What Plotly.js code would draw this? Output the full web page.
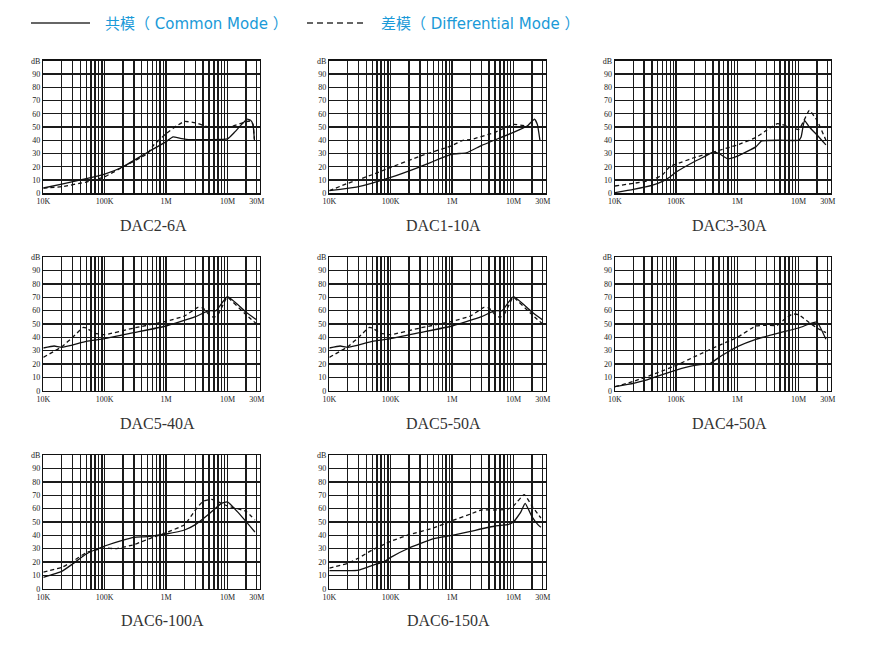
<!DOCTYPE html>
<html>
<head>
<meta charset="utf-8">
<script src="https://cdn.plot.ly/plotly-3.0.1.min.js"></script>
<style>html,body{margin:0;padding:0;background:#fff;}#chart{width:871px;height:669px;}</style>
</head>
<body>
<div id="chart"></div>
<script>
// ---- Data (frequency in Hz, attenuation in dB) ----
const panelNames = ["DAC2-6A","DAC1-10A","DAC3-30A","DAC5-40A","DAC5-50A","DAC4-50A","DAC6-100A","DAC6-150A"];

const dac2_6A_cmF  = [1e4,2e4,5e4,1e5,2e5,5e5,1e6,1.3e6,1.7e6,2.5e6,5e6,1e7,1.3e7,1.7e7,2.1e7,2.4e7,2.6e7,2.75e7];
const dac2_6A_cmDb = [4,7,11,14.5,20,31,39,42.5,41.5,40.5,40.5,41,46,52,56,55,52,40];
const dac2_6A_dmF  = [1e4,2e4,5e4,1e5,2e5,5e5,6.2e5,1e6,1.5e6,2e6,3.1e6,4.5e6,7.5e6,1.2e7,2e7,2.4e7,2.6e7,2.75e7];
const dac2_6A_dmDb = [4,5,8.5,12.5,20,30,36,45,51,54.2,53,50.5,49.5,50.5,54,54.5,52,41];

const dac1_10A_cmF  = [1e4,1.5e4,3e4,1e5,3e5,1e6,1.7e6,3e6,1e7,1.7e7,2.2e7,2.45e7,2.7e7];
const dac1_10A_cmDb = [2,3,5,12,20,29.5,30.5,36,46,51,56,52,40];
const dac1_10A_dmF  = [1e4,2e4,5e4,1e5,3e5,1e6,1.5e6,2e6,5e6,1e7,1.5e7,2e7];
const dac1_10A_dmDb = [2,7.5,14,19.5,28,36,40,40.5,46,52,51,50];

const dac3_30A_cmF  = [1e4,2e4,4e4,6e4,8e4,1e5,2e5,3e5,4e5,5e5,7e5,1e6,2e6,2.5e6,5e6,1e7,1.1e7,1.25e7,1.5e7,2e7,2.8e7];
const dac3_30A_cmDb = [0.5,3,6,9,12.5,16,24,28,31,30,26,28,35,39.5,40,40,42.5,55,50,44,36.5];
const dac3_30A_dmF  = [1e4,2e4,4e4,6e4,8e4,1e5,2e5,4e5,1e6,2e6,3e6,4.5e6,7e6,1e7,1.2e7,1.5e7,2e7,2.8e7];
const dac3_30A_dmDb = [5.5,7.5,10,14,20.5,22,27,31,36.5,42,47.5,52.5,50.5,48,54,62.5,55,40];

const dac5_40A_cmF  = [1e4,1.5e4,2e4,5e4,1e5,3e5,1e6,3e6,5e6,6.5e6,1e7,2e7,3e7];
const dac5_40A_cmDb = [32,33.5,32.5,37,39,43.5,48.5,55.5,60,60,70.5,59,53];
const dac5_40A_dmF  = [1e4,2e4,3e4,4.5e4,5e4,7e4,1e5,3e5,1e6,2e6,3.3e6,4e6,5e6,6e6,7e6,9.5e6,1e7,2e7,3e7];
const dac5_40A_dmDb = [25,33,40,47.5,47,43,42,47,52,56,62.5,62,57,55,57,69,70,57,50];

const dac5_50A_cmF  = [1e4,1.5e4,2e4,5e4,1e5,3e5,1e6,3e6,5e6,6.5e6,1e7,2e7,3e7];
const dac5_50A_cmDb = [32,33.5,32.5,37,39,43.5,48.5,55.5,60,60,70.5,59,53];
const dac5_50A_dmF  = [1e4,2e4,3e4,4.5e4,5e4,7e4,1e5,3e5,1e6,2e6,3.3e6,4e6,5e6,6e6,7e6,9.5e6,1e7,2e7,3e7];
const dac5_50A_dmDb = [25,33,40,47.5,47,43,42,47,52,56,62.5,62,57,55,57,69,70,57,50];

const dac4_50A_cmF  = [1e4,2e4,3e4,5e4,1e5,2e5,3e5,3.5e5,5e5,7e5,1e6,2e6,5e6,1e7,1.5e7,2e7,2.8e7];
const dac4_50A_cmDb = [3,5.5,7.5,11,15.5,19,20,20,25,29,33,38.5,43.5,47,50,51.5,38.5];
const dac4_50A_dmF  = [1e4,2e4,5e4,1e5,2e5,5e5,1e6,2e6,3e6,4.5e6,6e6,8e6,1e7,1.5e7,2e7,2.8e7];
const dac4_50A_dmDb = [3,7,13.5,19,25.5,34,40,48.5,49,49,54,57.5,57,51,47,43.5];

const dac6_100A_cmF  = [1e4,2e4,3e4,5e4,1e5,2e5,3e5,5e5,1e6,2e6,3e6,5e6,8e6,1e7,1.5e7,2.8e7];
const dac6_100A_cmDb = [8.5,13,18.5,26,32,36.5,38.5,39,41,44,48,56,64,65,57,42.5];
const dac6_100A_dmF  = [1e4,2e4,3e4,5e4,1e5,1.5e5,3e5,5e5,1e6,2e6,3e6,4e6,5.5e6,8e6,1e7,2e7,2.8e7];
const dac6_100A_dmDb = [12.5,16,20.5,27,30.5,30,33,37,42,48,59,65.5,67,64,62,58,51.5];

const dac6_150A_cmF  = [1e4,2e4,3e4,5e4,8e4,1e5,2e5,5e5,1e6,2e6,5e6,8e6,1e7,1.3e7,1.55e7,2e7,2.5e7,2.8e7];
const dac6_150A_cmDb = [13.5,13.5,14,17.5,20.5,23.5,30.5,37.5,40,43,47,48,50,57,64,54,48,46];
const dac6_150A_dmF  = [1e4,2e4,3e4,5e4,1e5,2e5,5e5,1e6,2e6,3e6,5e6,8e6,1e7,1.5e7,2e7,2.8e7];
const dac6_150A_dmDb = [15.5,19,23,29,35.5,40.5,45.5,51,56,59,59,59.5,62,70.5,62,53];

// tick positions / labels
const xGridHz = [1e4,2e4,3e4,4e4,5e4,6e4,7e4,8e4,9e4,1e5,2e5,3e5,4e5,5e5,6e5,7e5,8e5,9e5,1e6,2e6,3e6,4e6,5e6,6e6,7e6,8e6,9e6,1e7,2e7,3e7];
const xLabels = {1e4:"10K",1e5:"100K",1e6:"1M",1e7:"10M",3e7:"30M"};
const yTicks = [0,10,20,30,40,50,60,70,80,90,100];
const yTickText = ["0","10","20","30","40","50","60","70","80","90","dB"];
const legendCM = "共模（ Common Mode ）";
const legendDM = "差模（ Differential Mode ）";

// ---- Layout geometry (pixels) ----
const W = 871, H = 669;
const cols = [[43.3,260],[329.3,546],[615,831]];
const rows = [[60.7,193.3],[257.3,390.7],[455.3,588.7]];
const titlePos = [[153,226],[443,226],[729,226],[157,423],[443,423],[729,423],[162,620],[448,620]];

const seriesList = [
  [dac2_6A_cmF,dac2_6A_cmDb,dac2_6A_dmF,dac2_6A_dmDb],
  [dac1_10A_cmF,dac1_10A_cmDb,dac1_10A_dmF,dac1_10A_dmDb],
  [dac3_30A_cmF,dac3_30A_cmDb,dac3_30A_dmF,dac3_30A_dmDb],
  [dac5_40A_cmF,dac5_40A_cmDb,dac5_40A_dmF,dac5_40A_dmDb],
  [dac5_50A_cmF,dac5_50A_cmDb,dac5_50A_dmF,dac5_50A_dmDb],
  [dac4_50A_cmF,dac4_50A_cmDb,dac4_50A_dmF,dac4_50A_dmDb],
  [dac6_100A_cmF,dac6_100A_cmDb,dac6_100A_dmF,dac6_100A_dmDb],
  [dac6_150A_cmF,dac6_150A_cmDb,dac6_150A_dmF,dac6_150A_dmDb]
];

const tickFont = {family:"Liberation Serif, DejaVu Serif, serif", size:8, color:"#222"};
const traces = [];
const layout = {
  width:W, height:H, margin:{l:0,r:0,t:0,b:0},
  paper_bgcolor:"#fff", plot_bgcolor:"#fff", showlegend:false,
  annotations:[], shapes:[]
};

seriesList.forEach((s,i)=>{
  const n = i+1;
  const xa = "x"+(n===1?"":n), ya = "y"+(n===1?"":n);
  const c = cols[i%3], r = rows[Math.floor(i/3)];
  traces.push({x:s[0], y:s[1], xaxis:xa, yaxis:ya, type:"scatter", mode:"lines",
    name:legendCM, line:{color:"#111", width:1.3, shape:"spline", smoothing:0.4}, hoverinfo:"skip"});
  traces.push({x:s[2], y:s[3], xaxis:xa, yaxis:ya, type:"scatter", mode:"lines",
    name:legendDM, line:{color:"#111", width:1.3, dash:"4px,3px", shape:"spline", smoothing:0.4}, hoverinfo:"skip"});
  layout["xaxis"+(n===1?"":n)] = {
    type:"log", range:[4, 7.53], domain:[c[0]/W, c[1]/W], anchor:ya,
    tickmode:"array", tickvals:xGridHz, ticktext:xGridHz.map(v=>xLabels[v]||""),
    showgrid:true, gridcolor:"#1a1a1a", gridwidth:1.4, zeroline:false,
    showline:true, mirror:true, linecolor:"#111", linewidth:1.4,
    ticks:"", tickfont:tickFont, fixedrange:true
  };
  layout["yaxis"+(n===1?"":n)] = {
    range:[0,100], domain:[1-r[1]/H, 1-r[0]/H], anchor:xa,
    tickmode:"array", tickvals:yTicks, ticktext:yTickText,
    showgrid:true, gridcolor:"#1a1a1a", gridwidth:1.4, zeroline:false,
    showline:true, mirror:true, linecolor:"#111", linewidth:1.4,
    ticks:"", tickfont:tickFont, fixedrange:true
  };
  layout.annotations.push({text:panelNames[i], xref:"paper", yref:"paper",
    x:titlePos[i][0]/W, y:1-titlePos[i][1]/H, xanchor:"center", yanchor:"middle",
    showarrow:false, font:{family:"Liberation Serif, DejaVu Serif, serif", size:16, color:"#333"}});
});

// legend (manual)
const legY = 24;
const legFont = {family:"DejaVu Sans, Noto Sans CJK SC, sans-serif", size:15, color:"#1a9ad8"};
layout.shapes.push({type:"line", xref:"paper", yref:"paper", x0:31/W, x1:90/W, y0:1-23/H, y1:1-23/H, line:{color:"#333", width:1.6}});
layout.shapes.push({type:"line", xref:"paper", yref:"paper", x0:307/W, x1:363/W, y0:1-23/H, y1:1-23/H, line:{color:"#333", width:1.6, dash:"6px,4px"}});
layout.annotations.push({text:legendCM, xref:"paper", yref:"paper", x:103/W, y:1-legY/H, xanchor:"left", yanchor:"middle", showarrow:false, font:legFont});
layout.annotations.push({text:legendDM, xref:"paper", yref:"paper", x:379/W, y:1-legY/H, xanchor:"left", yanchor:"middle", showarrow:false, font:legFont});

Plotly.newPlot("chart", traces, layout, {displayModeBar:false, staticPlot:true});
</script>
</body>
</html>
